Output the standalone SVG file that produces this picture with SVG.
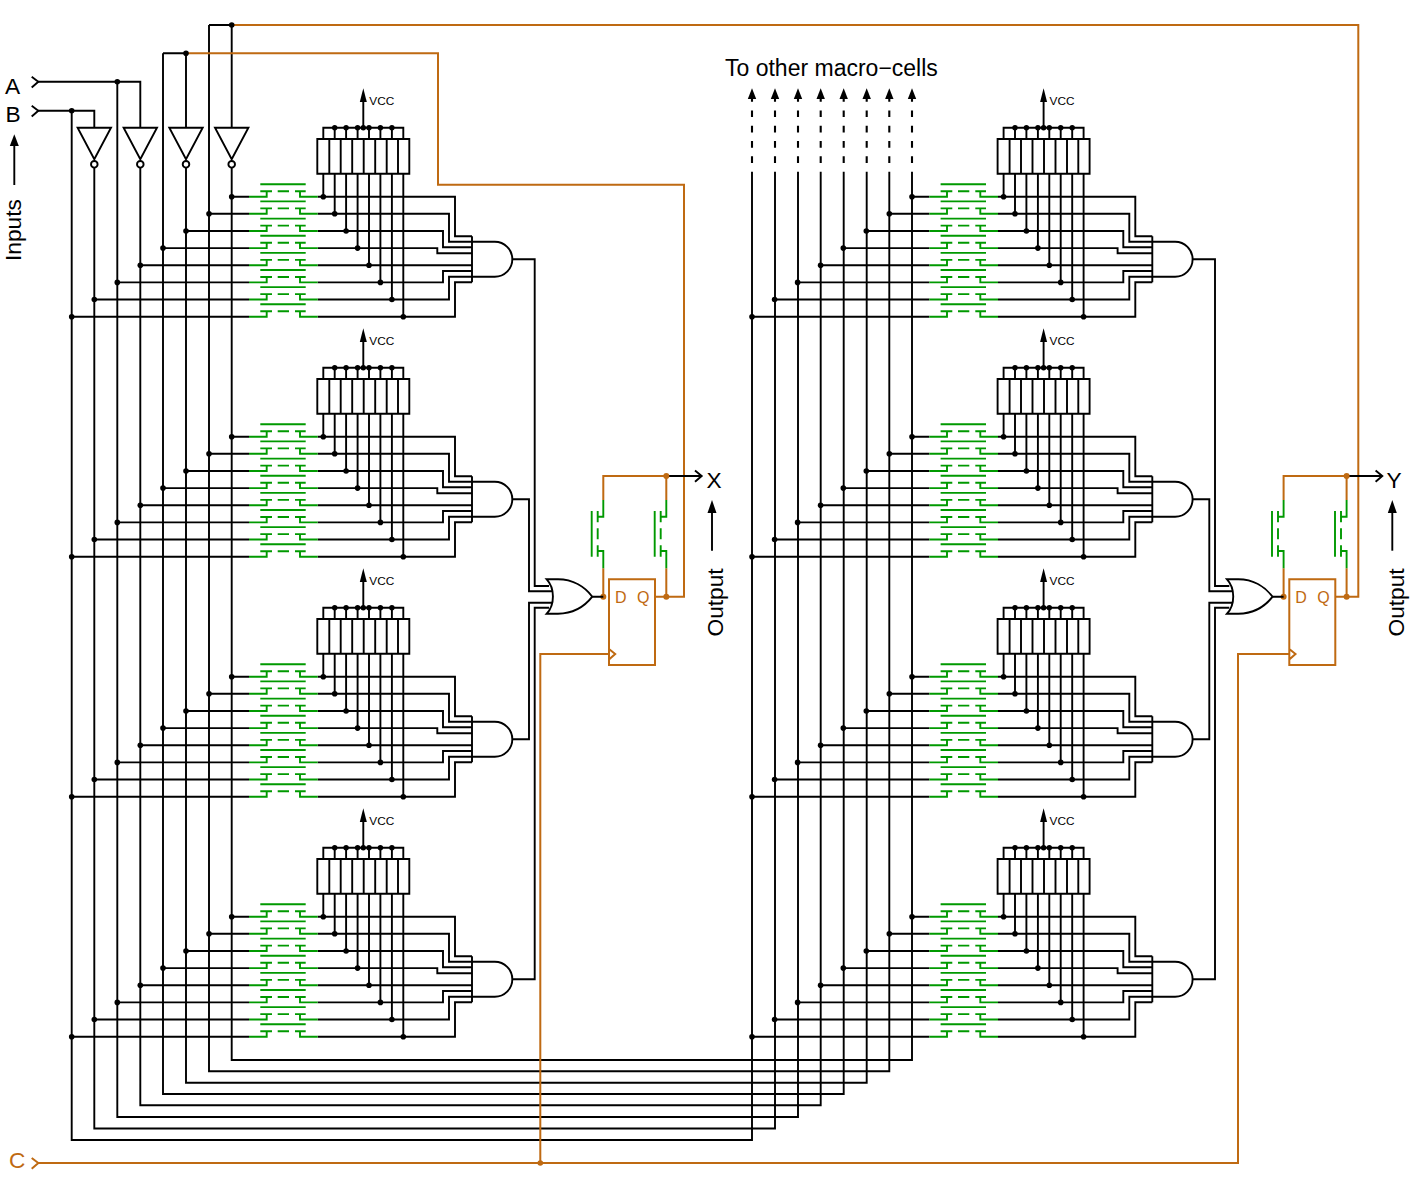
<svg xmlns="http://www.w3.org/2000/svg" width="1410" height="1179" viewBox="0 0 1410 1179">
<style>
.k{fill:none;stroke:#000;stroke-width:1.9}
.o{fill:none;stroke:#bf6a12;stroke-width:2}
.g{fill:none;stroke:#009900;stroke-width:1.9}
.d{fill:#000;stroke:none}
.od{fill:#bf6a12;stroke:none}
.h{fill:#000;stroke:none}
.w{fill:#fff;stroke:#000;stroke-width:1.9}
text{font-family:"Liberation Sans",Arial,sans-serif;font-size:22.7px;fill:#000}
text.ot{fill:#bf6a12}
text.ff{fill:#bf6a12;font-size:16px}
text.v{font-size:11.8px}
text.t{font-size:23px}
</style>
<defs>
<path id="fuse" class="g" d="M249 0H266.7V-5.4M260.3-5.4H272M277.7-5.4H289M295-5.4H305.7M300-5.4V0H317.7M260.3-12.4H305.7"/>
<g id="fuses">
<use href="#fuse" y="196.7"/><use href="#fuse" y="213.8"/><use href="#fuse" y="231"/><use href="#fuse" y="248.1"/>
<use href="#fuse" y="265.3"/><use href="#fuse" y="282.4"/><use href="#fuse" y="299.5"/><use href="#fuse" y="316.7"/>
</g>
<g id="rpack">
<path class="k" d="M317.3 139H409.3V173.7H317.3ZM329.3 139V173.7M340.7 139V173.7M352.2 139V173.7M363.7 139V173.7M375.2 139V173.7M386.7 139V173.7M398 139V173.7"/>
<path class="k" d="M323.3 139V127.7H403.3V139M334.7 127.7V139M346.1 127.7V139M357.6 127.7V139M369 127.7V139M380.4 127.7V139M391.9 127.7V139M363.3 127.7V100"/>
<path class="h" d="M363.3 88.3L366.8 102H359.8Z"/>
<circle class="d" cx="334.7" cy="127.7" r="2.7"/><circle class="d" cx="346.1" cy="127.7" r="2.7"/><circle class="d" cx="357.6" cy="127.7" r="2.7"/><circle class="d" cx="363.3" cy="127.7" r="2.7"/><circle class="d" cx="369" cy="127.7" r="2.7"/><circle class="d" cx="380.4" cy="127.7" r="2.7"/><circle class="d" cx="391.9" cy="127.7" r="2.7"/>
</g>
<path id="andg" class="k" d="M472 236.3V282.3M472 241.7H494.8A17.5 17.5 0 0 1 494.8 276.7H472"/>
<g id="inv"><path class="k" d="M-16.7 127.7H16.7L0 159.3Z"/><circle class="w" cy="164.3" r="3.3"/></g>
<g id="wires">
<path class="k" d="M231.7 196.7H249M209 213.8H249M186 231H249M163 248.1H249M140.3 265.3H249M117.3 282.4H249M94.3 299.5H249M71.7 316.7H249"/>
<path class="k" d="M317.7 196.7H455V236.3H472M317.7 213.8H449V241.7H472M317.7 231H443V247.3H472M317.7 248.1H437.3V253.3H472M317.7 265.3H472M317.7 282.4H443V271H472M317.7 299.5H449V276.7H472M317.7 316.7H455V282.3H472"/>
<path class="k" d="M323.3 173.7V196.7M334.7 173.7V213.8M346.1 173.7V231M357.6 173.7V248.1M369 173.7V265.3M380.4 173.7V282.4M391.9 173.7V299.5M403.3 173.7V316.7"/>
<circle class="d" cx="231.7" cy="196.7" r="2.8"/><circle class="d" cx="209" cy="213.8" r="2.8"/><circle class="d" cx="186" cy="231" r="2.8"/><circle class="d" cx="163" cy="248.1" r="2.8"/><circle class="d" cx="140.3" cy="265.3" r="2.8"/><circle class="d" cx="117.3" cy="282.4" r="2.8"/><circle class="d" cx="94.3" cy="299.5" r="2.8"/><circle class="d" cx="71.7" cy="316.7" r="2.8"/>
<circle class="d" cx="323.3" cy="196.7" r="2.8"/><circle class="d" cx="334.7" cy="213.8" r="2.8"/><circle class="d" cx="346.1" cy="231" r="2.8"/><circle class="d" cx="357.6" cy="248.1" r="2.8"/><circle class="d" cx="369" cy="265.3" r="2.8"/><circle class="d" cx="380.4" cy="282.4" r="2.8"/><circle class="d" cx="391.9" cy="299.5" r="2.8"/><circle class="d" cx="403.3" cy="316.7" r="2.8"/>
</g>
<g id="outs">
<path class="k" d="M512.3 259.2H534.7V586H549M512.3 499.2H529V591.2H552M512.3 739.2H529V602.7H552M512.3 979.2H534.7V607.7H549M592.3 596.7H603.3"/>
</g>
<path id="orgate" class="w" d="M546.7 579.3H558C573 579.3 585 587 592.3 596.7C585 606 573 613.7 558 613.7H546.7C555 605 555 588 546.7 579.3Z"/>
<g id="sw"><path class="g" d="M0 0V16.7H-5.6M0 68.3V51H-5.6M-5.6 11V22.3M-5.6 28.3V39.3M-5.6 45.3V56.7M-11.6 11V56.7"/></g>
<g id="ffbox"><path class="o" d="M609 579.3H655V665H609ZM609 649L615.2 654L609 659.5"/></g>
<g id="up"><path class="k" style="stroke-width:2.1" stroke-dasharray="6.7 8.6" d="M0 163V97"/><path class="h" d="M0 88.3L4.2 99H-4.2Z"/></g>
</defs>

<g id="connectors">
<path class="k" d="M71.7 110.7V1140H752V171.7M94.3 167.6V1128.5H775V171.7M117.3 81.7V1117H798V171.7M140.3 167.6V1105.3H820.7V171.7M163 53.3V1094H843.7V171.7M186 167.6V1082.7H866.7V171.7M209 25V1071.3H889.3V171.7M231.7 167.6V1060H912V171.7"/>
<path class="k" d="M38 81.7H140.3V127.7M38 110.7H94.3V127.7M163 53.3H186V127.7M209 25H231.7V127.7"/>
<path class="o" d="M186 53.3H438V184.7H684V596.7H655M231.7 25H1358.3V596.7H1335.3M38 1163H1238V654H1289.3M540.3 1163V654H609"/>
<path class="o" d="M603.3 596.7V568.3M603.3 500V476H666.3V500M666.3 568.3V596.7M1283.6 596.7V568.3M1283.6 500V476H1346.6V500M1346.6 568.3V596.7"/>
<path class="k" d="M666.3 476H701M695 470.5L701.7 476L695 481.8M1346.6 476H1381.5M1375.6 470.5L1382.3 476L1375.6 481.8"/>
<path class="k" d="M31.7 76.7L38.3 81.7L31.7 87.5M31.7 105.7L38.3 110.7L31.7 116.5"/>
<path class="o" d="M31.7 1158L38.3 1163L31.7 1168.8"/>
<g><circle class="d" cx="117.3" cy="81.7" r="2.8"/><circle class="d" cx="71.7" cy="110.7" r="2.8"/><circle class="d" cx="186" cy="53.3" r="2.8"/><circle class="d" cx="231.7" cy="25" r="2.8"/><circle class="od" cx="540.3" cy="1163" r="2.8"/><circle class="od" cx="603.3" cy="596.7" r="3"/><circle class="od" cx="666.3" cy="596.7" r="3"/><circle class="od" cx="666.3" cy="476" r="3"/><circle class="od" cx="1283.6" cy="596.7" r="3"/><circle class="od" cx="1346.6" cy="596.7" r="3"/><circle class="od" cx="1346.6" cy="476" r="3"/></g>
<use href="#wires"/><use href="#wires" y="240"/><use href="#wires" y="480"/><use href="#wires" y="720"/>
<use href="#wires" x="680.3"/><use href="#wires" x="680.3" y="240"/><use href="#wires" x="680.3" y="480"/><use href="#wires" x="680.3" y="720"/>
<use href="#outs"/><use href="#outs" x="680.3"/>
<use href="#up" x="752"/><use href="#up" x="775"/><use href="#up" x="798"/><use href="#up" x="820.7"/><use href="#up" x="843.7"/><use href="#up" x="866.7"/><use href="#up" x="889.3"/><use href="#up" x="912"/>
<path class="k" d="M14.3 185V145"/><path class="h" d="M14.3 134.3L18.8 146H9.8Z"/>
<path class="k" d="M712 550.7V513"/><path class="h" d="M712 500L716.5 513H707.5Z"/>
<path class="k" d="M1392.3 550.7V513"/><path class="h" d="M1392.3 500L1396.8 513H1387.8Z"/>
</g>

<g id="inverters">
<g id="inv-1"><use href="#inv" x="94.3"/></g>
<g id="inv-2"><use href="#inv" x="140.3"/></g>
<g id="inv-3"><use href="#inv" x="186"/></g>
<g id="inv-4"><use href="#inv" x="231.7"/></g>
</g>

<g id="cell-x-1"><use href="#fuses"/><use href="#rpack"/><use href="#andg"/><text class="v" x="369.3" y="104.5">VCC</text></g>
<g id="cell-x-2"><use href="#fuses" y="240"/><use href="#rpack" y="240"/><use href="#andg" y="240"/><text class="v" x="369.3" y="344.5">VCC</text></g>
<g id="cell-x-3"><use href="#fuses" y="480"/><use href="#rpack" y="480"/><use href="#andg" y="480"/><text class="v" x="369.3" y="584.5">VCC</text></g>
<g id="cell-x-4"><use href="#fuses" y="720"/><use href="#rpack" y="720"/><use href="#andg" y="720"/><text class="v" x="369.3" y="824.5">VCC</text></g>
<g id="cell-y-1"><use href="#fuses" x="680.3"/><use href="#rpack" x="680.3"/><use href="#andg" x="680.3"/><text class="v" x="1049.6" y="104.5">VCC</text></g>
<g id="cell-y-2"><use href="#fuses" x="680.3" y="240"/><use href="#rpack" x="680.3" y="240"/><use href="#andg" x="680.3" y="240"/><text class="v" x="1049.6" y="344.5">VCC</text></g>
<g id="cell-y-3"><use href="#fuses" x="680.3" y="480"/><use href="#rpack" x="680.3" y="480"/><use href="#andg" x="680.3" y="480"/><text class="v" x="1049.6" y="584.5">VCC</text></g>
<g id="cell-y-4"><use href="#fuses" x="680.3" y="720"/><use href="#rpack" x="680.3" y="720"/><use href="#andg" x="680.3" y="720"/><text class="v" x="1049.6" y="824.5">VCC</text></g>

<g id="or-x"><use href="#orgate"/></g>
<g id="or-y"><use href="#orgate" x="680.3"/></g>
<g id="ff-x"><use href="#ffbox"/><text class="ff" x="615" y="602.5">D</text><text class="ff" x="637" y="602.5">Q</text></g>
<g id="ff-y"><use href="#ffbox" x="680.3"/><text class="ff" x="1295.3" y="602.5">D</text><text class="ff" x="1317.3" y="602.5">Q</text></g>
<g id="sw-x-1"><use href="#sw" x="603.3" y="500"/></g>
<g id="sw-x-2"><use href="#sw" x="666.3" y="500"/></g>
<g id="sw-y-1"><use href="#sw" x="1283.6" y="500"/></g>
<g id="sw-y-2"><use href="#sw" x="1346.6" y="500"/></g>

<g id="labels">
<text x="5" y="93.5">A</text>
<text x="5.5" y="122">B</text>
<text class="ot" x="9" y="1168">C</text>
<text x="706.5" y="488">X</text>
<text x="1386.5" y="488">Y</text>
<text class="t" x="725" y="76">To other macro−cells</text>
<text transform="translate(20.7,261) rotate(-90)">Inputs</text>
<text transform="translate(723.3,636.5) rotate(-90)">Output</text>
<text transform="translate(1404,636.5) rotate(-90)">Output</text>
</g>
</svg>
